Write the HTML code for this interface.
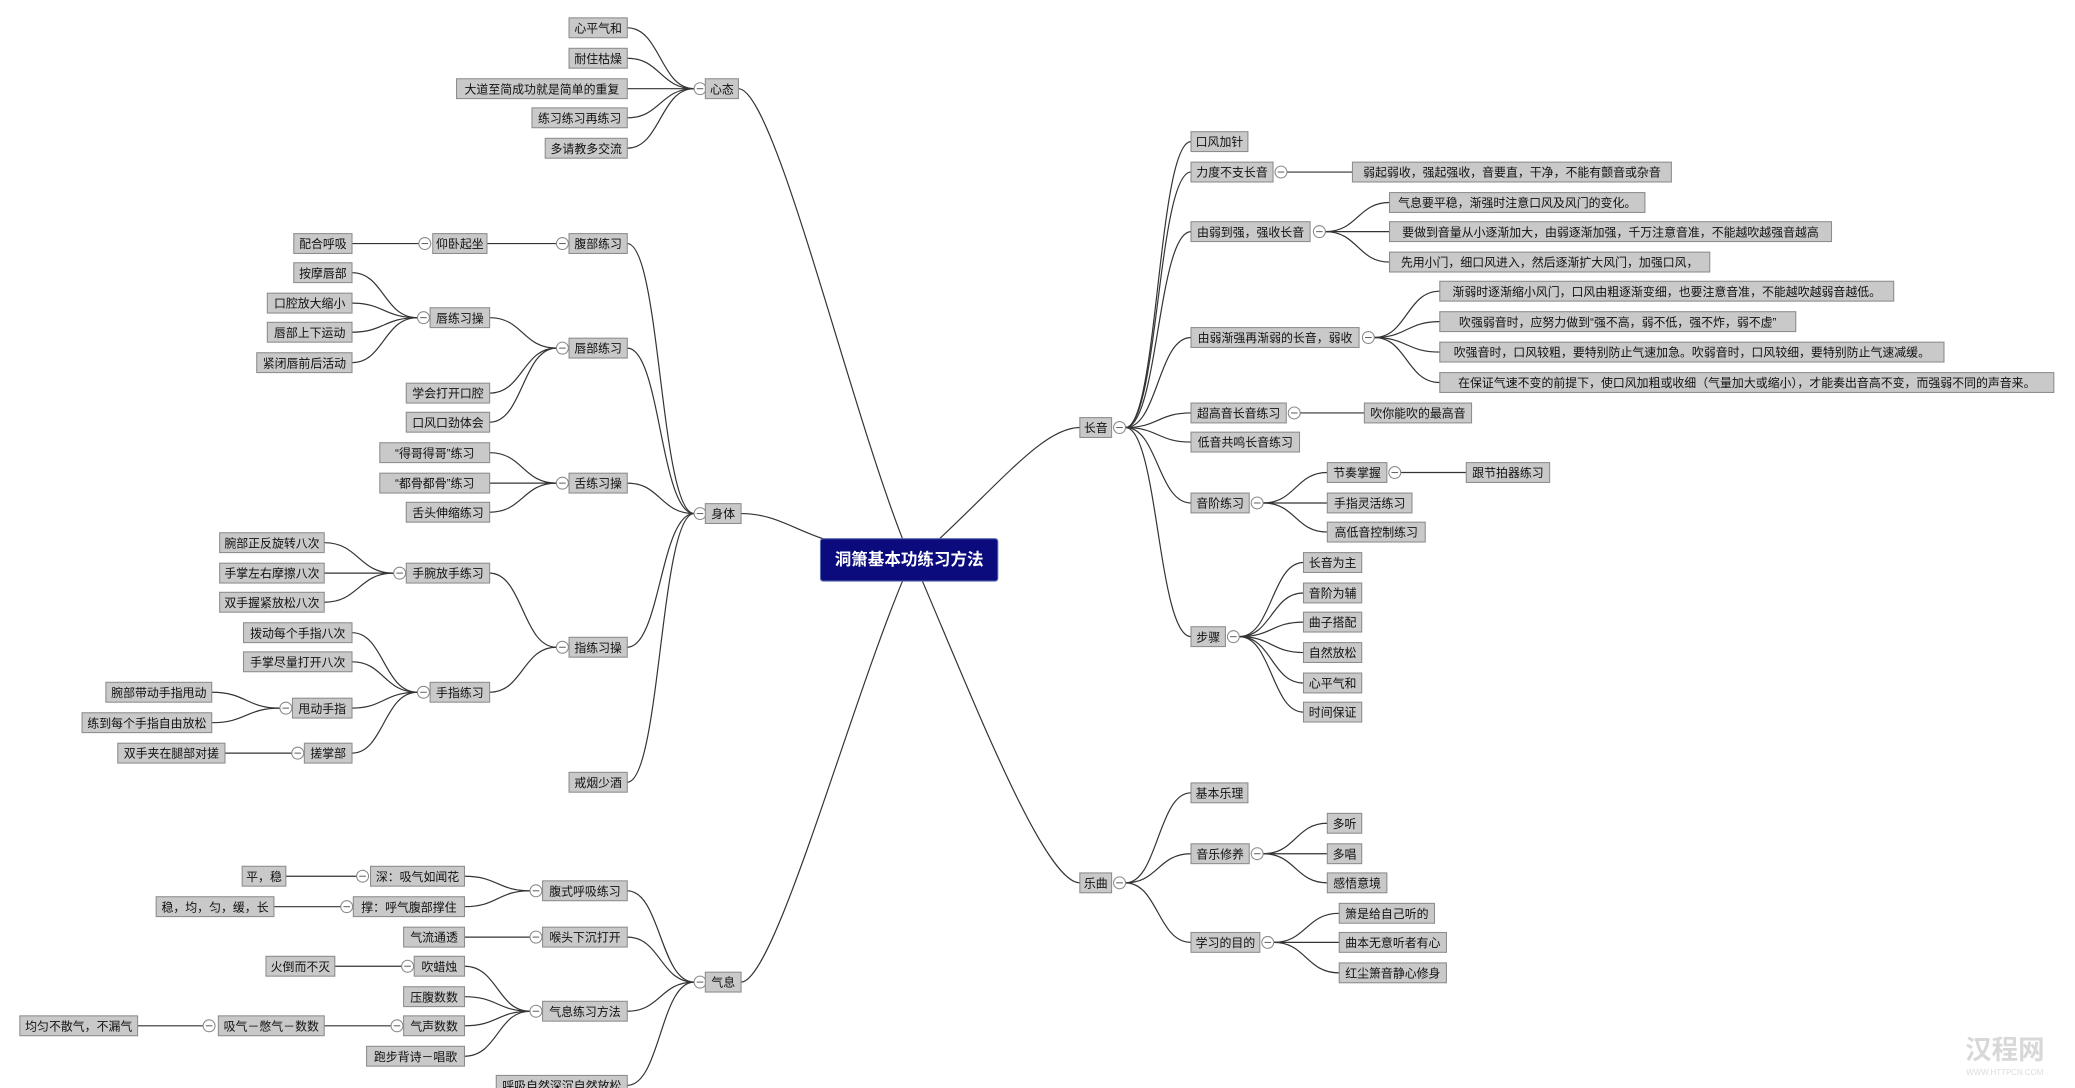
<!DOCTYPE html>
<html><head><meta charset="utf-8"><style>
html,body{margin:0;padding:0;background:#fff;width:2075px;height:1088px;overflow:hidden}
svg{display:block}
.n rect{fill:#c9c9c9;stroke:#8c8c8c;stroke-width:0.8}
text{font-family:"Liberation Sans","Noto Sans CJK SC",sans-serif;font-size:9px;fill:#111;text-anchor:middle}
.e path{fill:none;stroke:#333;stroke-width:0.9}
.c circle{fill:#fff;stroke:#888;stroke-width:0.8}
.c path{stroke:#666;stroke-width:0.8}
</style></head><body>
<svg width="2075" height="1088" viewBox="0 0 1568 822" preserveAspectRatio="none">
<g class="e">
<path d="M558 67 C585 67 640 300 682 407"/>
<path d="M560 388 C585 388 600 400 622 407"/>
<path d="M710 407 C760 360 790 323 816 323"/>
<path d="M682 439 C640 540 585 742 560 742"/>
<path d="M697 439 C740 540 790 667 816 667"/>
<path d="M474 21 C499 21 499 67 524.5 67"/><path d="M474 44 C499 44 499 67 524.5 67"/><path d="M474 67 L524.5 67"/><path d="M474 89 C499 89 499 67 524.5 67"/><path d="M474 112 C499 112 499 67 524.5 67"/>
<path d="M474 184 C499 184 499 388 524.5 388"/><path d="M474 263 C499 263 499 388 524.5 388"/><path d="M474 365 C499 365 499 388 524.5 388"/><path d="M474 489 C499 489 499 388 524.5 388"/><path d="M474 591 C499 591 499 388 524.5 388"/>
<path d="M368 184 L420.5 184"/><path d="M266 184 L316.5 184"/>
<path d="M370 240 C395 240 395 263 420.5 263"/><path d="M370 297 C395 297 395 263 420.5 263"/><path d="M370 319 C395 319 395 263 420.5 263"/>
<path d="M266 206 C290 206 290 240 315.5 240"/><path d="M266 229 C290 229 290 240 315.5 240"/><path d="M266 251 C290 251 290 240 315.5 240"/><path d="M266 274 C290 274 290 240 315.5 240"/>
<path d="M370 342 C395 342 395 365 420.5 365"/><path d="M370 365 L420.5 365"/><path d="M370 387 C395 387 395 365 420.5 365"/>
<path d="M370 433 C395 433 395 489 420.5 489"/><path d="M370 523 C395 523 395 489 420.5 489"/>
<path d="M245 410 C271 410 271 433 297.5 433"/><path d="M245 433 L297.5 433"/><path d="M245 455 C271 455 271 433 297.5 433"/>
<path d="M266 478 C290 478 290 523 315.5 523"/><path d="M266 500 C290 500 290 523 315.5 523"/><path d="M266 535 C290 535 290 523 315.5 523"/><path d="M266 569 C290 569 290 523 315.5 523"/>
<path d="M160 523 C186 523 186 535 211.5 535"/><path d="M160 546 C186 546 186 535 211.5 535"/>
<path d="M170 569 L220.5 569"/>
<path d="M474 673 C499 673 499 742 524.5 742"/><path d="M474 708 C499 708 499 742 524.5 742"/><path d="M474 764 C499 764 499 742 524.5 742"/><path d="M474 820 C499 820 499 742 524.5 742"/>
<path d="M351 662 C376 662 376 673 400.5 673"/><path d="M351 685 C376 685 376 673 400.5 673"/>
<path d="M216 662 L269.5 662"/><path d="M207 685 L257.5 685"/>
<path d="M351 708 L400.5 708"/>
<path d="M351 730 C376 730 376 764 400.5 764"/><path d="M351 753 C376 753 376 764 400.5 764"/><path d="M351 775 C376 775 376 764 400.5 764"/><path d="M351 798 C376 798 376 764 400.5 764"/>
<path d="M253 730 L303.5 730"/><path d="M245 775 L295.5 775"/><path d="M104 775 L153.5 775"/>
<path d="M850.5 323 C875 323 875 107 900 107"/><path d="M850.5 323 C875 323 875 130 900 130"/><path d="M850.5 323 C875 323 875 175 900 175"/><path d="M850.5 323 C875 323 875 255 900 255"/><path d="M850.5 323 C875 323 875 312 900 312"/><path d="M850.5 323 C875 323 875 334 900 334"/><path d="M850.5 323 C875 323 875 380 900 380"/><path d="M850.5 323 C875 323 875 481 900 481"/>
<path d="M972.5 130 L1022 130"/>
<path d="M1001.5 175 C1026 175 1026 153 1050 153"/><path d="M1001.5 175 L1050 175"/><path d="M1001.5 175 C1026 175 1026 198 1050 198"/>
<path d="M1038.5 255 C1063 255 1063 220 1088 220"/><path d="M1038.5 255 C1063 255 1063 243 1088 243"/><path d="M1038.5 255 C1063 255 1063 266 1088 266"/><path d="M1038.5 255 C1063 255 1063 289 1088 289"/>
<path d="M982.5 312 L1031 312"/>
<path d="M954.5 380 C979 380 979 357 1003 357"/><path d="M954.5 380 L1003 380"/><path d="M954.5 380 C979 380 979 402 1003 402"/>
<path d="M1058.5 357 L1108 357"/>
<path d="M936.5 481 C961 481 961 425 985 425"/><path d="M936.5 481 C961 481 961 448 985 448"/><path d="M936.5 481 C961 481 961 470 985 470"/><path d="M936.5 481 C961 481 961 493 985 493"/><path d="M936.5 481 C961 481 961 516 985 516"/><path d="M936.5 481 C961 481 961 538 985 538"/>
<path d="M850.5 667 C875 667 875 599 900 599"/><path d="M850.5 667 C875 667 875 645 900 645"/><path d="M850.5 667 C875 667 875 712 900 712"/>
<path d="M954.5 645 C979 645 979 622 1003 622"/><path d="M954.5 645 L1003 645"/><path d="M954.5 645 C979 645 979 667 1003 667"/>
<path d="M962.5 712 C987 712 987 690 1012 690"/><path d="M962.5 712 L1012 712"/><path d="M962.5 712 C987 712 987 735 1012 735"/>
</g>

<g class="c">
<circle cx="529" cy="67" r="4.5"/><path d="M526.5 67h5"/>
<circle cx="529" cy="388" r="4.5"/><path d="M526.5 388h5"/>
<circle cx="425" cy="184" r="4.5"/><path d="M422.5 184h5"/>
<circle cx="321" cy="184" r="4.5"/><path d="M318.5 184h5"/>
<circle cx="425" cy="263" r="4.5"/><path d="M422.5 263h5"/>
<circle cx="320" cy="240" r="4.5"/><path d="M317.5 240h5"/>
<circle cx="425" cy="365" r="4.5"/><path d="M422.5 365h5"/>
<circle cx="425" cy="489" r="4.5"/><path d="M422.5 489h5"/>
<circle cx="302" cy="433" r="4.5"/><path d="M299.5 433h5"/>
<circle cx="320" cy="523" r="4.5"/><path d="M317.5 523h5"/>
<circle cx="216" cy="535" r="4.5"/><path d="M213.5 535h5"/>
<circle cx="225" cy="569" r="4.5"/><path d="M222.5 569h5"/>
<circle cx="529" cy="742" r="4.5"/><path d="M526.5 742h5"/>
<circle cx="405" cy="673" r="4.5"/><path d="M402.5 673h5"/>
<circle cx="274" cy="662" r="4.5"/><path d="M271.5 662h5"/>
<circle cx="262" cy="685" r="4.5"/><path d="M259.5 685h5"/>
<circle cx="405" cy="708" r="4.5"/><path d="M402.5 708h5"/>
<circle cx="405" cy="764" r="4.5"/><path d="M402.5 764h5"/>
<circle cx="308" cy="730" r="4.5"/><path d="M305.5 730h5"/>
<circle cx="300" cy="775" r="4.5"/><path d="M297.5 775h5"/>
<circle cx="158" cy="775" r="4.5"/><path d="M155.5 775h5"/>
<circle cx="846" cy="323" r="4.5"/><path d="M843.5 323h5"/>
<circle cx="968" cy="130" r="4.5"/><path d="M965.5 130h5"/>
<circle cx="997" cy="175" r="4.5"/><path d="M994.5 175h5"/>
<circle cx="1034" cy="255" r="4.5"/><path d="M1031.5 255h5"/>
<circle cx="978" cy="312" r="4.5"/><path d="M975.5 312h5"/>
<circle cx="950" cy="380" r="4.5"/><path d="M947.5 380h5"/>
<circle cx="1054" cy="357" r="4.5"/><path d="M1051.5 357h5"/>
<circle cx="932" cy="481" r="4.5"/><path d="M929.5 481h5"/>
<circle cx="846" cy="667" r="4.5"/><path d="M843.5 667h5"/>
<circle cx="950" cy="645" r="4.5"/><path d="M947.5 645h5"/>
<circle cx="958" cy="712" r="4.5"/><path d="M955.5 712h5"/>
</g>

<rect x="620" y="407" width="134" height="32" rx="2" fill="#0b0b7e" stroke="#5a6ab0" stroke-width="0.8"/>
<text x="687" y="427" style="fill:#fff;font-size:12.5px;font-weight:bold">洞箫基本功练习方法</text>

<g class="n">
<rect x="533" y="59.5" width="25" height="15"/><text x="545.5" y="70.5">心态</text>
<rect x="430" y="13.5" width="44" height="15"/><text x="452" y="24.5">心平气和</text>
<rect x="430" y="36.5" width="44" height="15"/><text x="452" y="47.5">耐住枯燥</text>
<rect x="345" y="59.5" width="129" height="15"/><text x="409.5" y="70.5">大道至简成功就是简单的重复</text>
<rect x="402" y="81.5" width="72" height="15"/><text x="438" y="92.5">练习练习再练习</text>
<rect x="412" y="104.5" width="62" height="15"/><text x="443" y="115.5">多请教多交流</text>

<rect x="533" y="380.5" width="27" height="15"/><text x="546.5" y="391.5">身体</text>
<rect x="430" y="176.5" width="44" height="15"/><text x="452" y="187.5">腹部练习</text>
<rect x="430" y="255.5" width="44" height="15"/><text x="452" y="266.5">唇部练习</text>
<rect x="430" y="357.5" width="44" height="15"/><text x="452" y="368.5">舌练习操</text>
<rect x="430" y="481.5" width="44" height="15"/><text x="452" y="492.5">指练习操</text>
<rect x="430" y="583.5" width="44" height="15"/><text x="452" y="594.5">戒烟少酒</text>
<rect x="327" y="176.5" width="41" height="15"/><text x="347.5" y="187.5">仰卧起坐</text>
<rect x="222" y="176.5" width="44" height="15"/><text x="244" y="187.5">配合呼吸</text>
<rect x="325" y="232.5" width="45" height="15"/><text x="347.5" y="243.5">唇练习操</text>
<rect x="307" y="289.5" width="63" height="15"/><text x="338.5" y="300.5">学会打开口腔</text>
<rect x="307" y="311.5" width="63" height="15"/><text x="338.5" y="322.5">口风口劲体会</text>
<rect x="222" y="198.5" width="44" height="15"/><text x="244" y="209.5">按摩唇部</text>
<rect x="202" y="221.5" width="64" height="15"/><text x="234" y="232.5">口腔放大缩小</text>
<rect x="202" y="243.5" width="64" height="15"/><text x="234" y="254.5">唇部上下运动</text>
<rect x="194" y="266.5" width="72" height="15"/><text x="230" y="277.5">紧闭唇前后活动</text>
<rect x="287" y="334.5" width="83" height="15"/><text x="328.5" y="345.5">“得哥得哥”练习</text>
<rect x="287" y="357.5" width="83" height="15"/><text x="328.5" y="368.5">“都骨都骨”练习</text>
<rect x="307" y="379.5" width="63" height="15"/><text x="338.5" y="390.5">舌头伸缩练习</text>
<rect x="307" y="425.5" width="63" height="15"/><text x="338.5" y="436.5">手腕放手练习</text>
<rect x="325" y="515.5" width="45" height="15"/><text x="347.5" y="526.5">手指练习</text>
<rect x="166" y="402.5" width="79" height="15"/><text x="205.5" y="413.5">腕部正反旋转八次</text>
<rect x="166" y="425.5" width="79" height="15"/><text x="205.5" y="436.5">手掌左右摩擦八次</text>
<rect x="166" y="447.5" width="79" height="15"/><text x="205.5" y="458.5">双手握紧放松八次</text>
<rect x="184" y="470.5" width="82" height="15"/><text x="225" y="481.5">拨动每个手指八次</text>
<rect x="184" y="492.5" width="82" height="15"/><text x="225" y="503.5">手掌尽量打开八次</text>
<rect x="221" y="527.5" width="45" height="15"/><text x="243.5" y="538.5">甩动手指</text>
<rect x="230" y="561.5" width="36" height="15"/><text x="248" y="572.5">搓掌部</text>
<rect x="80" y="515.5" width="80" height="15"/><text x="120" y="526.5">腕部带动手指甩动</text>
<rect x="62" y="538.5" width="98" height="15"/><text x="111" y="549.5">练到每个手指自由放松</text>
<rect x="89" y="561.5" width="81" height="15"/><text x="129.5" y="572.5">双手夹在腿部对搓</text>

<rect x="533" y="734.5" width="27" height="15"/><text x="546.5" y="745.5">气息</text>
<rect x="410" y="665.5" width="64" height="15"/><text x="442" y="676.5">腹式呼吸练习</text>
<rect x="410" y="700.5" width="64" height="15"/><text x="442" y="711.5">喉头下沉打开</text>
<rect x="410" y="756.5" width="64" height="15"/><text x="442" y="767.5">气息练习方法</text>
<rect x="375" y="812.5" width="99" height="15"/><text x="424.5" y="823.5">呼吸自然深沉自然放松</text>
<rect x="280" y="654.5" width="71" height="15"/><text x="315.5" y="665.5">深：吸气如闻花</text>
<rect x="267" y="677.5" width="84" height="15"/><text x="309" y="688.5">撑：呼气腹部撑住</text>
<rect x="183" y="654.5" width="33" height="15"/><text x="199.5" y="665.5">平，稳</text>
<rect x="118" y="677.5" width="89" height="15"/><text x="162.5" y="688.5">稳，均，匀，缓，长</text>
<rect x="305" y="700.5" width="46" height="15"/><text x="328" y="711.5">气流通透</text>
<rect x="313" y="722.5" width="38" height="15"/><text x="332" y="733.5">吹蜡烛</text>
<rect x="305" y="745.5" width="46" height="15"/><text x="328" y="756.5">压腹数数</text>
<rect x="305" y="767.5" width="46" height="15"/><text x="328" y="778.5">气声数数</text>
<rect x="277" y="790.5" width="74" height="15"/><text x="314" y="801.5">跑步背诗－唱歌</text>
<rect x="201" y="722.5" width="52" height="15"/><text x="227" y="733.5">火倒而不灭</text>
<rect x="165" y="767.5" width="80" height="15"/><text x="205" y="778.5">吸气－憋气－数数</text>
<rect x="15" y="767.5" width="89" height="15"/><text x="59.5" y="778.5">均匀不散气，不漏气</text>

<rect x="816" y="315.5" width="24" height="15"/><text x="828" y="326.5">长音</text>
<rect x="900" y="99.5" width="43" height="15"/><text x="921.5" y="110.5">口风加针</text>
<rect x="900" y="122.5" width="62" height="15"/><text x="931" y="133.5">力度不支长音</text>
<rect x="900" y="167.5" width="90" height="15"/><text x="945" y="178.5">由弱到强，强收长音</text>
<rect x="900" y="247.5" width="127" height="15"/><text x="963.5" y="258.5">由弱渐强再渐弱的长音，弱收</text>
<rect x="900" y="304.5" width="72" height="15"/><text x="936" y="315.5">超高音长音练习</text>
<rect x="900" y="326.5" width="82" height="15"/><text x="941" y="337.5">低音共鸣长音练习</text>
<rect x="900" y="372.5" width="44" height="15"/><text x="922" y="383.5">音阶练习</text>
<rect x="900" y="473.5" width="26" height="15"/><text x="913" y="484.5">步骤</text>
<rect x="1022" y="122.5" width="241" height="15"/><text x="1142.5" y="133.5">弱起弱收，强起强收，音要直，干净，不能有颤音或杂音</text>
<rect x="1050" y="145.5" width="193" height="15"/><text x="1146.5" y="156.5">气息要平稳，渐强时注意口风及风门的变化。</text>
<rect x="1050" y="167.5" width="334" height="15"/><text x="1217" y="178.5">要做到音量从小逐渐加大，由弱逐渐加强，千万注意音准，不能越吹越强音越高</text>
<rect x="1050" y="190.5" width="242" height="15"/><text x="1171" y="201.5">先用小门，细口风进入，然后逐渐扩大风门，加强口风，</text>
<rect x="1088" y="212.5" width="343" height="15"/><text x="1259.5" y="223.5">渐弱时逐渐缩小风门，口风由粗逐渐变细，也要注意音准，不能越吹越弱音越低。</text>
<rect x="1088" y="235.5" width="269" height="15"/><text x="1222.5" y="246.5">吹强弱音时，应努力做到“强不高，弱不低，强不炸，弱不虚”</text>
<rect x="1088" y="258.5" width="381" height="15"/><text x="1278.5" y="269.5">吹强音时，口风较粗，要特别防止气速加急。吹弱音时，口风较细，要特别防止气速减缓。</text>
<rect x="1088" y="281.5" width="464" height="15"/><text x="1320" y="292.5">在保证气速不变的前提下，使口风加粗或收细（气量加大或缩小），才能奏出音高不变，而强弱不同的声音来。</text>
<rect x="1031" y="304.5" width="81" height="15"/><text x="1071.5" y="315.5">吹你能吹的最高音</text>
<rect x="1003" y="349.5" width="45" height="15"/><text x="1025.5" y="360.5">节奏掌握</text>
<rect x="1003" y="372.5" width="64" height="15"/><text x="1035" y="383.5">手指灵活练习</text>
<rect x="1003" y="394.5" width="74" height="15"/><text x="1040" y="405.5">高低音控制练习</text>
<rect x="1108" y="349.5" width="63" height="15"/><text x="1139.5" y="360.5">跟节拍器练习</text>
<rect x="985" y="417.5" width="44" height="15"/><text x="1007" y="428.5">长音为主</text>
<rect x="985" y="440.5" width="44" height="15"/><text x="1007" y="451.5">音阶为辅</text>
<rect x="985" y="462.5" width="44" height="15"/><text x="1007" y="473.5">曲子搭配</text>
<rect x="985" y="485.5" width="44" height="15"/><text x="1007" y="496.5">自然放松</text>
<rect x="985" y="508.5" width="44" height="15"/><text x="1007" y="519.5">心平气和</text>
<rect x="985" y="530.5" width="44" height="15"/><text x="1007" y="541.5">时间保证</text>

<rect x="816" y="659.5" width="24" height="15"/><text x="828" y="670.5">乐曲</text>
<rect x="900" y="591.5" width="43" height="15"/><text x="921.5" y="602.5">基本乐理</text>
<rect x="900" y="637.5" width="44" height="15"/><text x="922" y="648.5">音乐修养</text>
<rect x="900" y="704.5" width="52" height="15"/><text x="926" y="715.5">学习的目的</text>
<rect x="1003" y="614.5" width="26" height="15"/><text x="1016" y="625.5">多听</text>
<rect x="1003" y="637.5" width="26" height="15"/><text x="1016" y="648.5">多唱</text>
<rect x="1003" y="659.5" width="45" height="15"/><text x="1025.5" y="670.5">感悟意境</text>
<rect x="1012" y="682.5" width="72" height="15"/><text x="1048" y="693.5">箫是给自己听的</text>
<rect x="1012" y="704.5" width="81" height="15"/><text x="1052.5" y="715.5">曲本无意听者有心</text>
<rect x="1012" y="727.5" width="81" height="15"/><text x="1052.5" y="738.5">红尘箫音静心修身</text>
</g>
<text x="1515" y="800" style="fill:#d8d8d8;font-size:20px;font-weight:bold">汉程网</text>
<text x="1515" y="812" style="fill:#dcdcdc;font-size:6px">WWW.HTTPCN.COM</text>
</svg>
</body></html>
